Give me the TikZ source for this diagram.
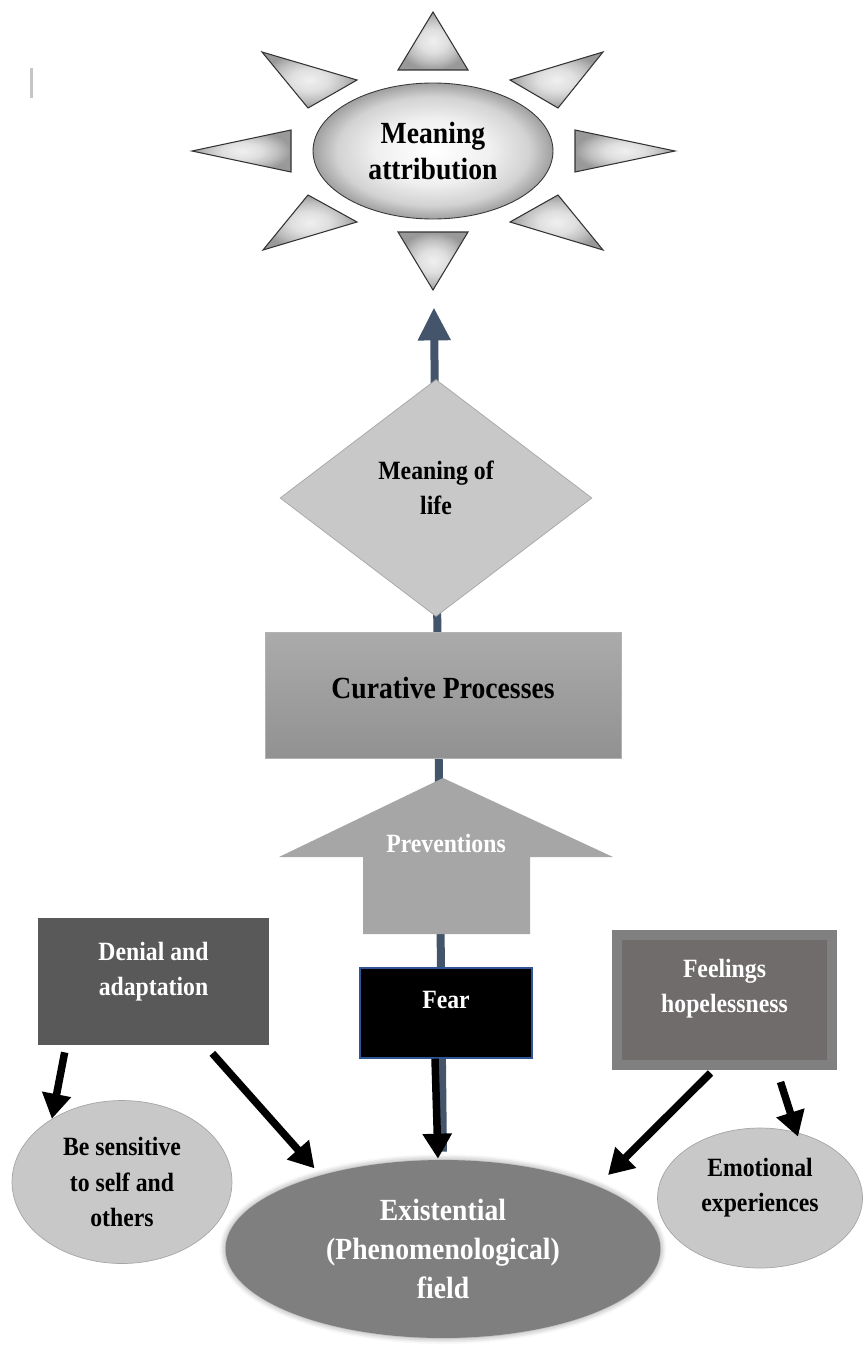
\documentclass[tikz,border=0pt]{standalone}
\usepackage{fontspec}
\newfontfamily\figfont{Liberation Serif}[FakeStretch=0.9]
\usetikzlibrary{shapes.geometric,arrows.meta,shadows.blur,backgrounds}

\definecolor{spineblue}{HTML}{44546A}
\definecolor{darkbox}{HTML}{595959}
\definecolor{feelout}{HTML}{808080}
\definecolor{feelin}{HTML}{706C6C}
\definecolor{lightcirc}{HTML}{C8C8C8}
\definecolor{midgray}{HTML}{7F7F7F}
\definecolor{prevgray}{HTML}{A6A6A6}
\definecolor{fearedge}{HTML}{2F5597}

\pgfdeclareradialshading{emboss}{\pgfpoint{0bp}{0bp}}{color(0bp)=(white); color(12bp)=(gray!12); color(20bp)=(gray!35); color(25bp)=(gray!75); color(50bp)=(gray!75)}
\pgfdeclareradialshading{rayglow}{\pgfpoint{0bp}{0bp}}{color(0bp)=(gray!12); color(10bp)=(gray!25); color(18bp)=(gray!50); color(25bp)=(gray!80); color(50bp)=(gray!80)}
\pgfdeclareverticalshading{curefill}{100bp}{color(0bp)=(black!43); color(25bp)=(black!43); color(75bp)=(black!33); color(100bp)=(black!33)}

\begin{document}
\begin{tikzpicture}[x=0.02cm, y=-0.02cm,
    txt/.style={font=\figfont\bfseries\fontsize{15}{20}\selectfont, align=center, inner sep=0pt},
    bigtxt/.style={font=\figfont\bfseries\fontsize{17.5}{21}\selectfont, align=center, inner sep=0pt},
    ray/.style={shading=rayglow, draw=gray!40!black, line width=0.6pt},
    blk/.style={line width=0.15cm, -{Triangle[width=0.56cm,length=0.5cm]}},
    spine/.style={spineblue, line width=0.16cm, -{Triangle[width=0.62cm,length=0.66cm]}}]

    \useasboundingbox (0,0) rectangle (863,1345);

    % stray mark top left
    \draw [gray!45, line width=0.06cm] (31,68) -- (31,98);

    % sun rays
    \path [ray] (433,12) -- (468,70) -- (398,70) -- cycle;
    \path [ray] (398,232) -- (468,232) -- (433,290) -- cycle;
    \path [ray] (192,151) -- (291,130) -- (291,172) -- cycle;
    \path [ray] (675,151) -- (575,130) -- (575,172) -- cycle;
    \path [ray] (262,52) -- (357,80) -- (308,108) -- cycle;
    \path [ray] (603,52) -- (510,80) -- (558,108) -- cycle;
    \path [ray] (308,195) -- (357,222) -- (263,250) -- cycle;
    \path [ray] (558,195) -- (510,222) -- (603,250) -- cycle;

    \node [ellipse, shading=emboss, draw=gray!45!black, line width=0.5pt,
           minimum width=4.8cm, minimum height=2.72cm, bigtxt] (sun) at (433,151) {Meaning\\attribution};

    % middle column
    \node [diamond, fill=lightcirc, draw=gray!70, minimum width=6.24cm, minimum height=4.74cm] (life) at (436,498) {};
    \node [txt] (lifetext) at (436,488) {Meaning of\\life};

    \node [rectangle, shading=curefill, draw=gray!60, minimum width=7.12cm, minimum height=2.52cm] (cure) at (443,695) {};
    \node [bigtxt] (curetext) at (443,688) {Curative Processes};

    \fill [prevgray] (443,778) -- (613,857) -- (530,857) -- (530,934) -- (363,934) -- (363,857) -- (279,857) -- cycle;
    \node [txt, text=white] (prevent) at (446,843) {Preventions};

    \node [rectangle, fill=black, draw=fearedge, line width=0.8pt, minimum width=3.44cm, minimum height=1.8cm] (fear) at (446,1013) {};
    \node [txt, text=white] (feartext) at (446,1000) {Fear};

    % side boxes
    \node [rectangle, fill=darkbox, minimum width=4.62cm, minimum height=2.54cm] (denial) at (153.5,981.5) {};
    \node [txt, text=white] (denialtext) at (153.5,972) {Denial and\\adaptation};

    \node [rectangle, fill=feelin, draw=feelout, line width=0.2cm, minimum width=4.3cm, minimum height=2.6cm] (feel) at (724.5,1000) {};
    \node [txt, text=white] (feeltext) at (724.5,989) {Feelings\\hopelessness};

    % bottom ellipses
    \node [ellipse, fill=lightcirc, draw=gray!70, minimum width=4.4cm, minimum height=3.26cm, txt] (sens) at (122,1182) {Be sensitive\\to self and\\others};
    \node [ellipse, fill=lightcirc, draw=gray!70, minimum width=4.1cm, minimum height=2.8cm] (emot) at (760,1198) {};
    \node [txt] (emottext) at (760,1188) {Emotional\\experiences};
    \node [ellipse, fill=midgray, minimum width=8.7cm, minimum height=3.56cm,
           blur shadow={shadow xshift=0pt, shadow yshift=0pt, shadow scale=1.0, shadow blur radius=0.12cm, shadow opacity=45},
           bigtxt, text=white, font=\figfont\bfseries\fontsize{17.5}{22}\selectfont] (exist) at (443,1249) {Existential\\(Phenomenological)\\field};

    \begin{scope}[on background layer]
    \draw [spine, shorten <=0.16cm, shorten >=1.76cm] (exist.north) -- (sun.south);
    \end{scope}

    \draw [blk] ([shift={(27,7)}]denial.south west) -- (sens.138);
    \draw [blk] ([shift={(-57,8)}]denial.south east) -- ([shift={(-9,-6)}]exist.148);
    \draw [blk] ([shift={(-11,0)}]fear.south) -- ([shift={(-5,-1)}]exist.north);
    \draw [blk] ([shift={(-14,3)}]feel.south) -- ([shift={(165,-74)}]exist.center);
    \draw [blk] ([shift={(56,12)}]feel.south) -- ([shift={(38,9)}]emot.north);

\end{tikzpicture}
\end{document}
